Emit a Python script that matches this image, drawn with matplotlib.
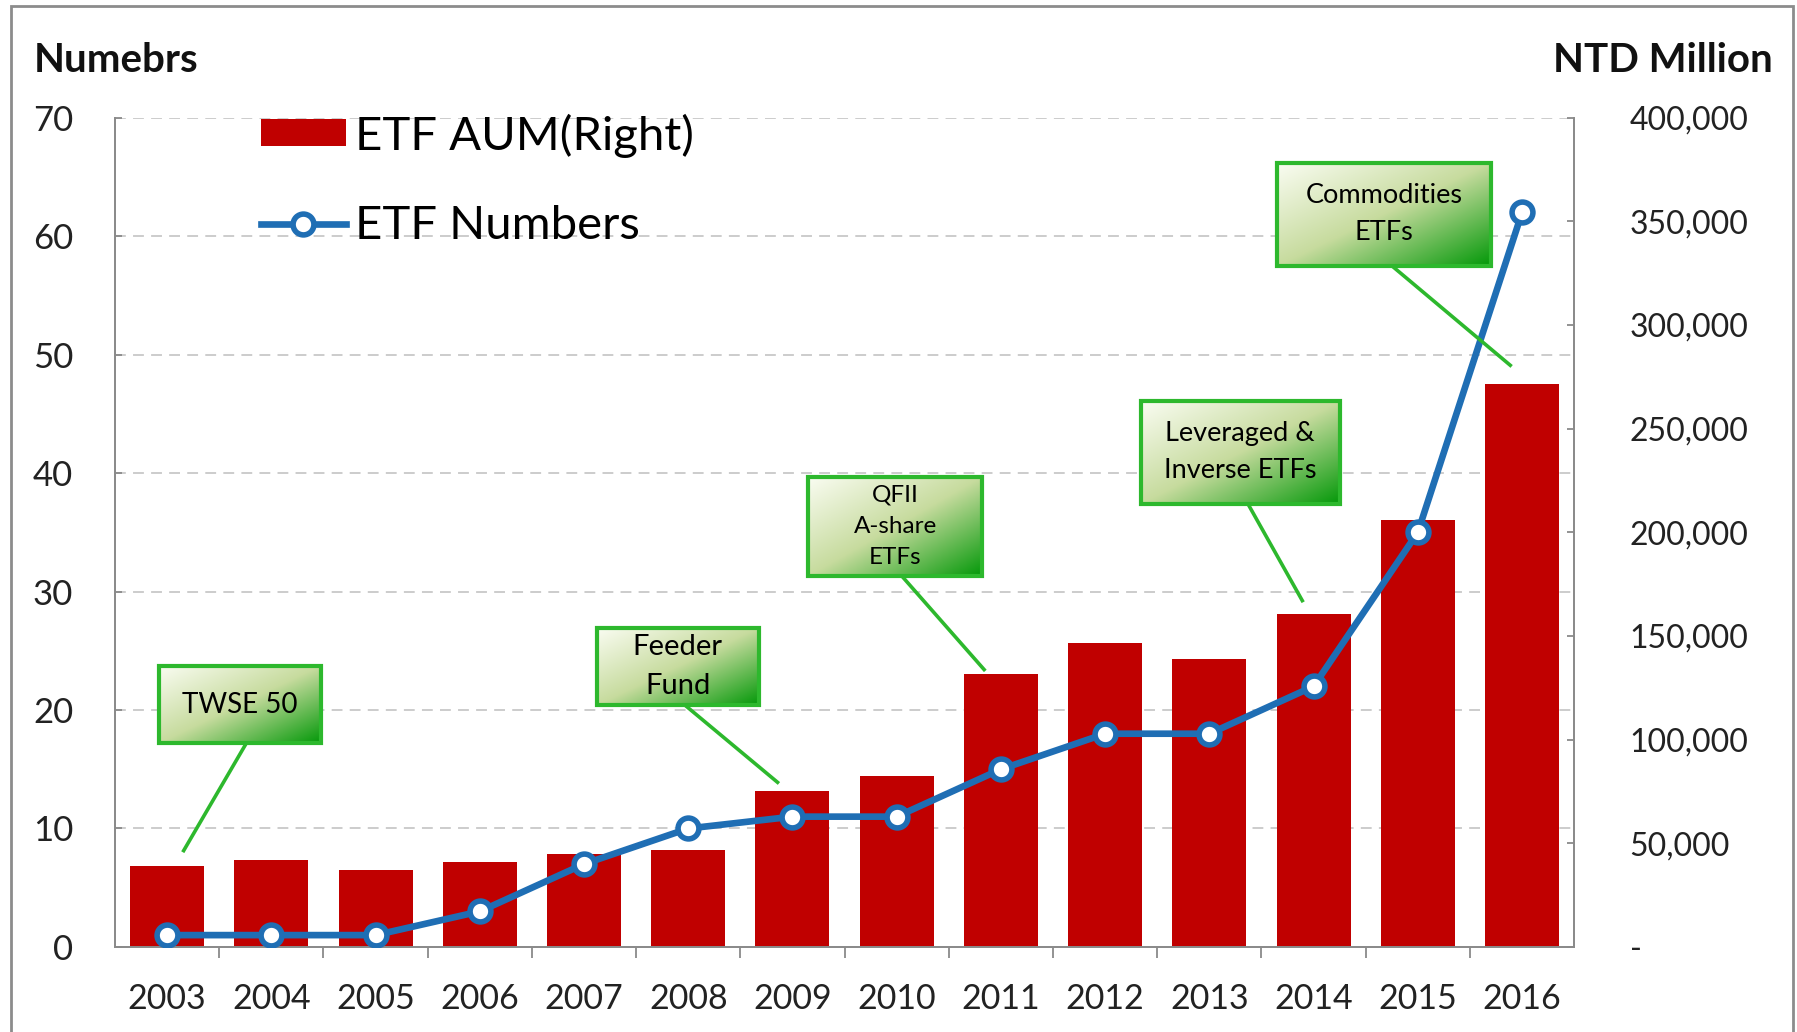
import matplotlib
matplotlib.use("Agg")
import matplotlib.pyplot as plt
import numpy as np
from matplotlib.patches import Rectangle
from matplotlib.ticker import FuncFormatter, FixedLocator

plt.rcParams['font.family'] = ['Lato', 'DejaVu Sans']

years = ['2003', '2004', '2005', '2006', '2007', '2008', '2009',
         '2010', '2011', '2012', '2013', '2014', '2015', '2016']
aum = [39000, 42000, 37000, 41000, 44800, 47000, 75200,
       82400, 131700, 146600, 138900, 160400, 205800, 271600]
etf_count = [1, 1, 1, 3, 7, 10, 11, 11, 15, 18, 18, 22, 35, 62]

# callouts: text, box (x0, x1, y0, y1) in category / left-axis units, pointer line
callouts = [
    ('TWSE 50', (-0.08, 1.48, 17.2, 23.7), (0.76, 17.2, 0.15, 8.0), 20),
    ('Feeder\nFund', (4.12, 5.68, 20.4, 26.9), (4.97, 20.4, 5.87, 13.8), 21),
    ('QFII\nA-share\nETFs', (6.15, 7.82, 31.3, 39.7), (7.05, 31.3, 7.85, 23.3), 17.5),
    ('Leveraged &\nInverse ETFs', (9.34, 11.25, 37.4, 46.1), (10.37, 37.4, 10.90, 29.1), 19.5),
    ('Commodities\nETFs', (10.65, 12.70, 57.5, 66.2), (11.75, 57.5, 12.90, 49.0), 19.5),
]

red = '#c00000'
blue = '#1f6eb4'
green = '#2db82d'
txt = '#222222'
spine = '#8a8a8a'

fig = plt.figure(figsize=(17.97, 10.32), dpi=100)
ax = fig.add_axes([0.064, 0.0824, 0.812, 0.8036])
ax2 = ax.twinx()
ax.set_zorder(ax2.get_zorder() + 1)
ax.patch.set_visible(False)

x = np.arange(len(years))
ymax_left = 70
ymax_right = 400000

# gridlines at left-axis ticks, drawn behind bars
for v in range(10, ymax_left + 1, 10):
    ax2.axhline(v * ymax_right / ymax_left, color='#c8c8c8', ls=(0, (6, 4)), lw=1.3, zorder=0)

bars = ax2.bar(x, aum, width=0.71, color=red, zorder=2, label='ETF AUM(Right)')
line, = ax.plot(x, etf_count, color=blue, lw=4.8, marker='o', ms=15,
                mfc='white', mec=blue, mew=4, zorder=5, label='ETF Numbers')

ax.set_xlim(-0.5, len(years) - 0.5)
ax.set_ylim(0, ymax_left)
ax2.set_ylim(0, ymax_right)

ax.set_yticks(range(0, ymax_left + 1, 10))
ax2.set_yticks(range(0, ymax_right + 1, 50000))
ax2.yaxis.set_major_formatter(FuncFormatter(lambda v, p: '-' if v == 0 else f'{int(v):,}'))

ax.set_xticks(x)
ax.set_xticklabels(years)
ax.xaxis.set_minor_locator(FixedLocator(np.arange(0.5, len(years) - 0.5, 1.0)))
ax.tick_params(axis='x', which='major', length=0, pad=26, labelsize=24.5, labelcolor=txt)
ax.tick_params(axis='x', which='minor', length=8, width=1.3, color=spine, direction='out')
ax.tick_params(axis='y', length=5, width=1.3, color=spine, direction='in', pad=30,
               labelsize=25, labelcolor=txt)
ax2.tick_params(axis='y', length=5, width=1.3, color=spine, direction='in', pad=40,
                labelsize=23, labelcolor=txt)

for a in (ax, ax2):
    a.spines['top'].set_visible(False)
    for s in ('left', 'right', 'bottom'):
        a.spines[s].set_color(spine)
        a.spines[s].set_linewidth(1.3)

# gradient callout boxes
def gradient(n=60):
    i, j = np.mgrid[0:n, 0:n] / (n - 1)
    t = (i + j) / 2
    c0 = np.array([0.98, 0.99, 0.95])
    c1 = np.array([0.78, 0.86, 0.62])
    c2 = np.array([0.02, 0.60, 0.04])
    lo = t[..., None] < 0.5
    a1 = c0 + (c1 - c0) * (t[..., None] / 0.5)
    a2 = c1 + (c2 - c1) * ((t[..., None] - 0.5) / 0.5)
    return np.where(lo, a1, a2)

grad = gradient()
for text, (x0, x1, y0, y1), (lx0, ly0, lx1, ly1), fs in callouts:
    ax.plot([lx0, lx1], [ly0, ly1], color=green, lw=2.6, zorder=6, solid_capstyle='butt')
    ax.imshow(grad, extent=(x0, x1, y0, y1), aspect='auto', zorder=7, interpolation='bilinear')
    ax.add_patch(Rectangle((x0, y0), x1 - x0, y1 - y0, fill=False, ec=green, lw=3, zorder=8))
    ax.text((x0 + x1) / 2, (y0 + y1) / 2, text, ha='center', va='center', fontsize=fs,
            color='black', zorder=9, linespacing=1.6)

ax.set_xlim(-0.5, len(years) - 0.5)
ax.set_ylim(0, ymax_left)

ax.legend(handles=[bars, line], loc='upper left', bbox_to_anchor=(0.1, 1.005),
          frameon=False, fontsize=34, handlelength=1.8, handleheight=0.5, handletextpad=0.2,
          labelspacing=1.0, borderpad=0, borderaxespad=0, numpoints=1)

fig.text(34 / 1797, 1 - 61 / 1032, 'Numebrs', fontsize=29, fontweight='bold',
         ha='left', va='center', color='#111111')
fig.text(1773 / 1797, 1 - 60 / 1032, 'NTD Million', fontsize=29, fontweight='bold',
         ha='right', va='center', color='#111111')

fig.add_artist(Rectangle((11 / 1797, -0.02), (1793 - 11) / 1797, 1.02 - 6 / 1032,
                         transform=fig.transFigure, fill=False, ec='#8c8c8c', lw=2))

fig.savefig('out.png', dpi=100, facecolor='white')
